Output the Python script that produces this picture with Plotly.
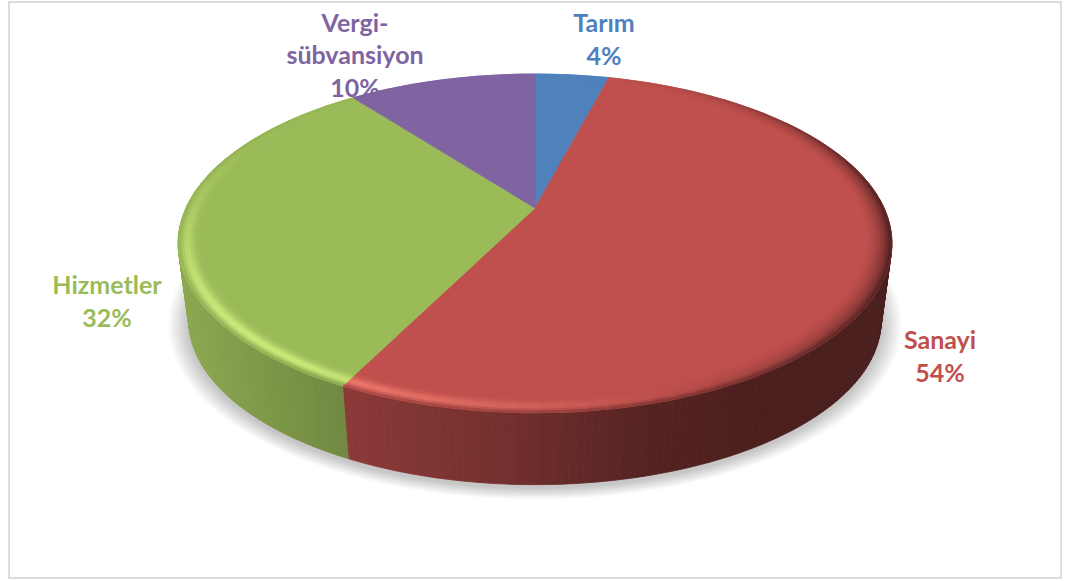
import numpy as np
import plotly.graph_objects as go

# Dados da pizza
categorias = ["Tarım", "Sanayi", "Hizmetler", "Vergi-<br>sübvansiyon"]
valores = [4.1, 53.3, 32.2, 10.4]
percentuais = ["4%", "54%", "32%", "10%"]
cores = [(79, 129, 189), (192, 80, 77), (155, 187, 89), (128, 100, 162)]
rotulo_x = [604, 940, 107, 355]
rotulo_y = [42, 359, 304, 58]

# Projecao: topo da pizza em perspectiva, em pixels da pagina
CX, CY = 535, 208
A, B, P = 349, 162, 0.209
ESCALA_BASE, DESLOC_BASE = 0.97, 78


def projetar(theta, r=1.0, base=False):
    w = 1 + P * r * np.cos(theta)
    x = A * r * np.sin(theta) / w
    y = -B * r * np.cos(theta) / w
    if base:
        return CX + ESCALA_BASE * x, CY + DESLOC_BASE + ESCALA_BASE * y
    return CX + x, CY + y


def rgb(c):
    return "rgb(%d,%d,%d)" % tuple(np.clip(np.round(c), 0, 255))


def poligono(fig, xs, ys, cor):
    fig.add_trace(go.Scatter(
        x=xs, y=ys, mode="lines", fill="toself", fillcolor=cor,
        line=dict(color=cor, width=0.8), hoverinfo="skip", showlegend=False,
    ))


# Escurecimento da lateral conforme a posicao horizontal
def sombra_lateral(x):
    return np.interp(x, [178, 350, 500, 650, 780, 892], [0.90, 0.72, 0.60, 0.44, 0.385, 0.385])


# Brilho do chanfro: claro embaixo a esquerda, funde com a lateral na borda
def cor_chanfro(cor, theta, u, x):
    base = np.array(cor, dtype=float)
    luz = max(np.cos(theta - np.radians(225)), 0) ** 3
    perfil = np.exp(-((u - 0.68) / 0.24) ** 2)
    c = base + np.array([50, 46, 34]) * perfil * luz
    # parte direita: escurece aos poucos em direcao a lateral
    direita = max(np.cos(theta - np.radians(100)), 0) ** 2
    lateral = base * sombra_lateral(x)
    peso = direita * u ** 1.8 * 0.9
    c = c + (lateral - c) * peso
    # ultimo pedaco da borda na frente
    frente = np.clip((1 - np.cos(theta)) / 1.2, 0, 1)
    fim = np.clip((u - 0.8) / 0.2, 0, 1) * 0.55 * frente
    return c + (lateral - c) * fim


# Limites das fatias em radianos, sentido horario a partir do topo
acum = np.cumsum([0] + valores) / sum(valores) * 2 * np.pi
fatias = [(acum[i], acum[i + 1], cores[i]) for i in range(len(valores))]

fig = go.Figure()

# Rotulos ficam atras da pizza (o 10% e cortado pela fatia no original)
fig.add_trace(go.Scatter(
    x=rotulo_x, y=rotulo_y, mode="text",
    text=[f"<b>{c}<br>{p}</b>" for c, p in zip(categorias, percentuais)],
    textposition="middle center",
    textfont=dict(family="Lato", size=25, color=[rgb(c) for c in cores]),
    hoverinfo="skip", showlegend=False,
))

# Sombra difusa embaixo da base
todos = np.linspace(0, 2 * np.pi, 200)
for k in range(14):
    sx, sy = projetar(todos, 1.0, base=True)
    fator = 1.06 - k * 0.0042
    fig.add_trace(go.Scatter(
        x=CX + (sx - CX) * fator, y=CY + 81 + (sy - CY - 78) * fator,
        mode="lines", fill="toself",
        fillcolor="rgba(0,0,0,0.014)", line=dict(width=0),
        hoverinfo="skip", showlegend=False,
    ))

# Lateral em tiras
for ini, fim, cor in fatias:
    a0, a1 = max(ini, np.radians(70)), min(fim, np.radians(290))
    if a1 <= a0:
        continue
    passos = max(2, int(np.degrees(a1 - a0)))
    angulos = np.linspace(a0, a1, passos + 1)
    for t0, t1 in zip(angulos[:-1], angulos[1:]):
        x0, y0 = projetar(t0)
        x1, y1 = projetar(t1)
        x2, y2 = projetar(t1, base=True)
        x3, y3 = projetar(t0, base=True)
        c = np.array(cor) * sombra_lateral((x0 + x1) / 2)
        poligono(fig, [x0, x1, x2, x3, x0], [y0, y1, y2, y3, y0], rgb(c))

# Face de cima
for ini, fim, cor in fatias:
    angulos = np.linspace(ini, fim, 120)
    ax, ay = projetar(angulos)
    poligono(fig, np.r_[CX, ax, CX], np.r_[CY, ay, CY], rgb(cor))

# Chanfro da borda em aneis
aneis = np.linspace(0.925, 1.0, 11)
for ini, fim, cor in fatias:
    passos = max(2, int(np.degrees(fim - ini) / 3))
    angulos = np.linspace(ini, fim, passos + 1)
    for r0, r1 in zip(aneis[:-1], aneis[1:]):
        u = ((r0 + r1) / 2 - aneis[0]) / (aneis[-1] - aneis[0])
        for t0, t1 in zip(angulos[:-1], angulos[1:]):
            x0, y0 = projetar(t0, r0)
            x1, y1 = projetar(t1, r0)
            x2, y2 = projetar(t1, r1)
            x3, y3 = projetar(t0, r1)
            c = cor_chanfro(cor, (t0 + t1) / 2, u, (x2 + x3) / 2)
            poligono(fig, [x0, x1, x2, x3, x0], [y0, y1, y2, y3, y0], rgb(c))

fig.update_layout(
    width=1079,
    height=581,
    margin=dict(l=0, r=0, t=0, b=0),
    paper_bgcolor="white",
    plot_bgcolor="white",
    showlegend=False,
    xaxis=dict(range=[0, 1079], visible=False, fixedrange=True),
    yaxis=dict(range=[581, 0], visible=False, fixedrange=True),
    # Moldura cinza do quadro
    shapes=[dict(type="rect", x0=9, y0=2, x1=1061, y1=578,
                 line=dict(color="#dcdcdc", width=2), layer="below")],
)

fig.write_html("out.html", config=dict(displayModeBar=False),
               post_script="document.body.style.margin='0';")
